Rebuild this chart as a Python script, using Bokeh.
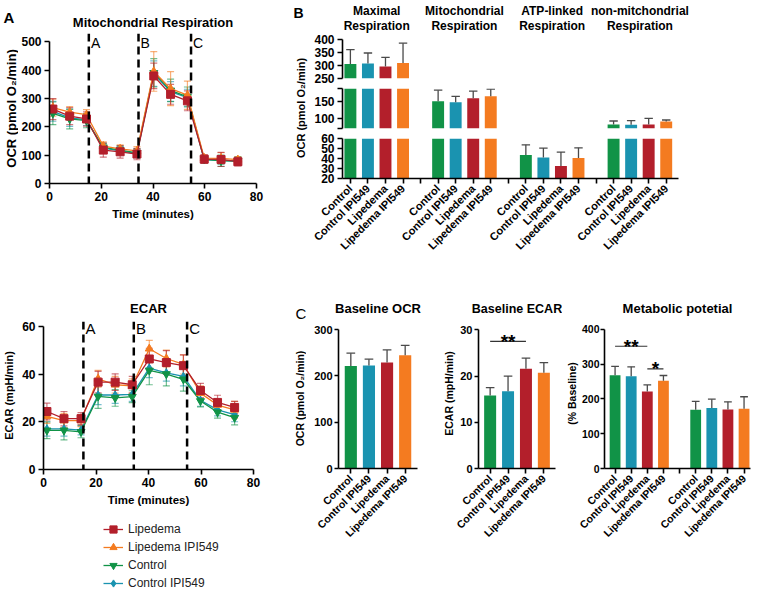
import numpy as np
from bokeh.plotting import figure
from bokeh.layouts import row, column
from bokeh.models import (Range1d, FixedTicker, LinearAxis, Legend, LegendItem,
                          ColumnDataSource, Span, Whisker, TeeHead)
from bokeh.core.properties import value
from bokeh.embed import file_html
from bokeh.resources import INLINE

FONT = "Liberation Sans"

# ---------------- Panel A : time courses ----------------
time_min = [1.3, 7.8, 14.3, 20.8, 27.3, 33.8, 40.3, 46.8, 53.3, 59.8, 66.3, 72.8]
injection_times = [15.2, 34.4, 54.7]
injection_labels = ["A", "B", "C"]

series_names = ["Lipedema", "Lipedema IPI549", "Control", "Control IPI549"]
series_colors = ["#B31F2B", "#F47B20", "#119347", "#1A93B0"]
series_markers = ["square", "triangle", "inverted_triangle", "diamond"]

ocr_lipedema = [263, 238, 228, 118, 112, 104, 380, 315, 292, 86, 85, 77]
ocr_lipedema_ipi = [268, 252, 243, 132, 122, 115, 396, 335, 312, 90, 89, 84]
ocr_control = [248, 228, 222, 128, 118, 108, 391, 329, 306, 86, 80, 80]
ocr_control_ipi = [255, 232, 225, 125, 115, 106, 388, 325, 303, 84, 82, 78]
ocr_lipedema_err = [37, 30, 25, 25, 22, 20, 45, 35, 35, 15, 25, 15]
ocr_lipedema_ipi_err = [30, 20, 18, 15, 15, 15, 70, 60, 50, 10, 20, 10]
ocr_control_err = [40, 35, 25, 15, 15, 15, 50, 40, 35, 12, 20, 15]
ocr_control_ipi_err = [35, 30, 20, 15, 15, 15, 45, 35, 30, 10, 15, 12]

ecar_lipedema = [24.3, 21.3, 21.3, 36.6, 36.6, 35.5, 46.3, 44.8, 43.5, 33.1, 28.1, 26.0]
ecar_lipedema_ipi = [22.3, 20.5, 20.5, 38.0, 35.5, 35.0, 50.6, 46.5, 44.0, 32.0, 27.0, 25.0]
ecar_control = [16.4, 16.4, 15.8, 30.6, 30.0, 30.5, 41.5, 40.0, 37.8, 28.7, 24.0, 21.7]
ecar_control_ipi = [17.0, 17.0, 16.5, 31.2, 31.2, 31.5, 42.5, 40.5, 39.0, 29.0, 25.0, 23.0]
ecar_lipedema_err = [3.5, 3.0, 2.5, 4.5, 3.5, 3.5, 4.5, 5.0, 4.5, 3.0, 3.0, 2.5]
ecar_lipedema_ipi_err = [3.0, 3.0, 2.5, 3.5, 3.5, 3.0, 3.5, 3.5, 4.0, 3.0, 2.5, 3.5]
ecar_control_err = [3.5, 4.0, 2.5, 5.0, 3.5, 2.5, 6.0, 5.0, 5.0, 2.5, 2.5, 3.0]
ecar_control_ipi_err = [3.0, 3.0, 2.0, 4.0, 3.5, 3.0, 4.0, 3.5, 4.0, 2.5, 2.5, 3.0]

# ---------------- Panel B / C : bar charts ----------------
bar_categories = ["Control", "Control IPI549", "Lipedema", "Lipedema IPI549"]
bar_colors = ["#119347", "#1A93B0", "#B31F2B", "#F47B20"]

b_groups = ["Maximal\nRespiration", "Mitochondrial\nRespiration",
            "ATP-linked\nRespiration", "non-mitchondrial\nRespiration"]
b_maximal = [306, 308, 296, 310]
b_maximal_err = [55, 40, 35, 76]
b_mito = [152, 149, 161, 167]
b_mito_err = [34, 18, 22, 22]
b_atp = [43.4, 41.0, 32.4, 40.4]
b_atp_err = [10.3, 9.4, 14.0, 10.3]
b_nonmito = [81.3, 80.3, 81.3, 90.6]
b_nonmito_err = [10.5, 12.5, 18.7, 4.4]

c_ocr = [221, 222.5, 229, 244.7]
c_ocr_err = [28, 13.5, 27, 21]
c_ecar = [15.8, 16.7, 21.6, 20.7]
c_ecar_err = [1.7, 3.3, 2.3, 2.2]
mp_ocr = [268, 265, 221, 252]
mp_ocr_err = [25, 27, 19, 15]
mp_ecar = [168.7, 174, 169.5, 171.5]
mp_ecar_err = [24, 25, 22, 34.5]

ecar_sig = {"x0": [0], "x1": [2], "y": [27.5], "text": ["**"]}
mp_sig = {"x0": [0, 2], "x1": [2, 3], "y": [351, 286], "text": ["**", "*"]}


# ---------------- helpers ----------------
def base_fig(width, height, xr, yr, **kw):
    p = figure(width=width, height=height, x_range=xr, y_range=yr,
               output_backend="svg", toolbar_location=None, **kw)
    p.outline_line_color = None
    p.xgrid.visible = False
    p.ygrid.visible = False
    return p


def solo(p):
    # wrap a plot on its own so that its frame is not aligned with its neighbours'
    return column(p)


def strip_fig(width, height):
    return base_fig(width, height, Range1d(0, width), Range1d(0, height), min_border=0,
                    x_axis_location=None, y_axis_location=None, title_location=None)


def strip_text(p, x, y, text, size, bold=True, angle=0.0, align="left", baseline="alphabetic"):
    p.text(x=[x], y=[y], text=[text], angle=angle, text_font=value(FONT),
           text_font_style="bold" if bold else "normal", text_font_size=size,
           text_align=align, text_baseline=baseline, text_color="black")


def style_axis(ax, tick_size="12px", label_size="12px"):
    ax.axis_line_color = "black"
    ax.axis_line_width = 1.6
    ax.major_tick_line_color = "black"
    ax.major_tick_line_width = 1.6
    ax.major_tick_in = 0
    ax.major_tick_out = 5
    ax.minor_tick_line_color = None
    ax.major_label_text_font = FONT
    ax.major_label_text_font_style = "bold"
    ax.major_label_text_font_size = tick_size
    ax.major_label_text_color = "black"
    ax.major_label_standoff = 3
    ax.axis_label_text_font = FONT
    ax.axis_label_text_font_style = "bold"
    ax.axis_label_text_font_size = label_size
    ax.axis_label_text_color = "black"
    ax.axis_label_standoff = 4


def set_title(p, text, standoff, size="13px", offset=0):
    p.title.text = text
    p.title.align = "center"
    p.title.offset = offset
    p.title.text_font = FONT
    p.title.text_font_style = "bold"
    p.title.text_font_size = size
    p.title.text_color = "black"
    p.title.standoff = standoff


def series_sources(ys, errs):
    out = []
    for y, e in zip(ys, errs):
        y = np.array(y, dtype=float)
        e = np.array(e, dtype=float)
        out.append(ColumnDataSource(dict(x=time_min, y=y, lower=y - e, upper=y + e)))
    return out


def time_course(p, sources):
    data = list(zip(series_colors, series_markers, sources))
    for color, marker, src in reversed(data):
        p.add_layout(Whisker(base="x", upper="upper", lower="lower", source=src,
                             line_color=color, line_alpha=0.6, line_width=1.2,
                             upper_head=TeeHead(size=7, line_color=color, line_alpha=0.6, line_width=1.2),
                             lower_head=TeeHead(size=7, line_color=color, line_alpha=0.6, line_width=1.2)))
        p.line("x", "y", source=src, line_color=color, line_width=1.3)
        p.scatter("x", "y", source=src, marker=marker, size=8, color=color)
    for t in injection_times:
        p.add_layout(Span(location=t, dimension="height", line_color="black",
                          line_width=2.5, line_dash="8 5"))


def draw_bars(p, xs, vals, errs, colors, lo, hi, width=0.68, cap=0.24):
    """Bars, drawn only inside the [lo, hi] band of this (possibly broken) axis segment."""
    xs = np.array(xs, dtype=float)
    vals = np.array(vals, dtype=float)
    ups = vals + np.array(errs, dtype=float)
    colors = np.array(colors)
    m = vals > lo
    p.vbar(x=xs[m], top=np.minimum(vals[m], hi), bottom=lo, width=width,
           fill_color=list(colors[m]), line_color=None)
    y0 = np.clip(vals, lo, hi)
    y1 = np.clip(ups, lo, hi)
    s = y1 > y0
    p.segment(x0=xs[s], y0=y0[s], x1=xs[s], y1=y1[s], line_color="#4a4a4a", line_width=1.3)
    c = (ups >= lo) & (ups <= hi)
    p.segment(x0=xs[c] - cap, y0=ups[c], x1=xs[c] + cap, y1=ups[c], line_color="#4a4a4a", line_width=1.3)


def cat_axis(ax, positions, labels, size="11px"):
    ax.ticker = FixedTicker(ticks=positions)
    ax.major_label_overrides = {float(k): v for k, v in zip(positions, labels)}
    ax.major_label_orientation = np.pi / 4
    ax.major_label_text_font_size = size


# ---------------- Panel A figures ----------------
ocr_sources = series_sources([ocr_lipedema, ocr_lipedema_ipi, ocr_control, ocr_control_ipi],
                             [ocr_lipedema_err, ocr_lipedema_ipi_err, ocr_control_err, ocr_control_ipi_err])
ecar_sources = series_sources([ecar_lipedema, ecar_lipedema_ipi, ecar_control, ecar_control_ipi],
                              [ecar_lipedema_err, ecar_lipedema_ipi_err, ecar_control_err, ecar_control_ipi_err])

stripA = strip_fig(18, 226)
strip_text(stripA, 3, 209.5, "A", "15px")
strip_text(stripA, 11, 118, "OCR (pmol O\u2082/min)", "13px", angle=np.pi / 2,
           align="center", baseline="middle")

pA1 = base_fig(273, 226, Range1d(0, 80), Range1d(0, 530),
               min_border_left=28, min_border_right=35, min_border_top=33, min_border_bottom=43)
set_title(pA1, "Mitochondrial Respiration", 8)
time_course(pA1, ocr_sources)
pA1.text(x=[t + 0.8 for t in injection_times], y=[497] * 3, text=injection_labels,
         text_font=value(FONT), text_font_size="14px", text_baseline="alphabetic", text_color="black")
for ax in pA1.axis:
    style_axis(ax, "12px", "13px")
pA1.xaxis.ticker = FixedTicker(ticks=[0, 20, 40, 60, 80])
pA1.yaxis.ticker = FixedTicker(ticks=[0, 100, 200, 300, 400, 500])
pA1.yaxis.bounds = (0, 500)
pA1.xaxis.axis_label = "Time (minutes)"
pA1.xaxis.axis_label_text_font_size = "11.5px"

pA2 = base_fig(291, 284, Range1d(0, 80), Range1d(0, 62),
               min_border_left=38, min_border_right=38, min_border_top=95, min_border_bottom=41)
set_title(pA2, "ECAR", 11)
time_course(pA2, ecar_sources)
pA2.text(x=[t + 0.8 for t in injection_times], y=[59] * 3, text=injection_labels,
         text_font=value(FONT), text_font_size="15px", text_baseline="alphabetic", text_color="black")
for ax in pA2.axis:
    style_axis(ax, "12px", "11px")
pA2.xaxis.ticker = FixedTicker(ticks=[0, 20, 40, 60, 80])
pA2.yaxis.ticker = FixedTicker(ticks=[0, 20, 40, 60])
pA2.yaxis.bounds = (0, 60)
pA2.xaxis.axis_label = "Time (minutes)"
pA2.xaxis.axis_label_text_font_size = "11.5px"
pA2.yaxis.axis_label = "ECAR (mpH/min)"

# legend: its own small figure; the series there are out of view, only their keys are shown
pLeg = base_fig(291, 82, Range1d(-2, -1), Range1d(-2, -1), min_border_left=103,
                min_border_right=0, min_border_top=10, min_border_bottom=0,
                x_axis_location=None, y_axis_location=None, title_location=None)
items = []
for name, color, marker, src in zip(series_names, series_colors, series_markers, ecar_sources):
    lr = pLeg.line("x", "y", source=src, line_color=color, line_width=1.3)
    sr = pLeg.scatter("x", "y", source=src, marker=marker, color=color, size=8)
    items.append(LegendItem(label=name, renderers=[lr, sr]))
leg = Legend(items=items, location="top_left", padding=0, margin=0, spacing=0,
             glyph_height=18, label_height=18, glyph_width=20, label_standoff=5,
             border_line_color=None, background_fill_alpha=0,
             label_text_font=FONT, label_text_font_size="12px", label_text_color="#222222")
pLeg.add_layout(leg)

left_col = column(row(solo(stripA), solo(pA1)), solo(pA2), solo(pLeg))

# ---------------- Panel B ----------------
pBlab = strip_fig(18, 295)
strip_text(pBlab, 2, 282.5, "B", "14px")
strip_text(pBlab, 9, 187.5, "OCR (pmol O\u2082/min)", "11px", angle=np.pi / 2,
           align="center", baseline="middle")

b_x = [5 * g + i for g in range(4) for i in range(4)]
b_vals = b_maximal + b_mito + b_atp + b_nonmito
b_errs = b_maximal_err + b_mito_err + b_atp_err + b_nonmito_err
b_cols = bar_colors * 4
xB = Range1d(-0.45, 18.7)

pBt = base_fig(389, 86, xB, Range1d(250, 400), x_axis_location=None, title_location=None,
               min_border_left=33, min_border_right=20, min_border_top=39, min_border_bottom=8)
pBm = base_fig(389, 44, xB, Range1d(69, 191), x_axis_location=None, title_location=None,
               min_border_left=33, min_border_right=20, min_border_top=2, min_border_bottom=2)
pBb = base_fig(389, 165, xB, Range1d(20, 60), title_location=None,
               min_border_left=33, min_border_right=20, min_border_top=8, min_border_bottom=117)
for p in (pBt, pBm, pBb):
    draw_bars(p, b_x, b_vals, b_errs, b_cols, p.y_range.start, p.y_range.end)
    for ax in p.axis:
        style_axis(ax, "12px", "11px")
pBt.yaxis.ticker = FixedTicker(ticks=[250, 300, 350, 400])
pBm.yaxis.ticker = FixedTicker(ticks=[69, 100, 150, 191])
pBm.yaxis.major_label_overrides = {69: "", 191: ""}
pBb.yaxis.ticker = FixedTicker(ticks=[20, 30, 40, 50, 60])

b_ticks = list(range(19))
b_tick_labels = ["" if t % 5 == 4 else bar_categories[t % 5] for t in b_ticks]
cat_axis(pBb.xaxis[0], b_ticks, b_tick_labels, "11px")

group_centers = [5 * g + 1.5 for g in range(4)]
top_axis = LinearAxis(ticker=FixedTicker(ticks=group_centers),
                      major_label_overrides={float(c): t for c, t in zip(group_centers, b_groups)})
style_axis(top_axis, "12px", "12px")
top_axis.axis_line_color = None
top_axis.major_tick_line_color = None
top_axis.major_tick_out = 0
top_axis.major_label_text_line_height = 1.05
top_axis.major_label_standoff = 7
pBt.add_layout(top_axis, "above")

B_row = row(solo(pBlab), column(pBt, pBm, pBb))

# ---------------- Panel C ----------------
def c_fig(width, xr, yr, left, right, title, ticks, ylabel=None, title_size="13px", title_offset=0):
    p = base_fig(width, 297, xr, yr, min_border_left=left, min_border_right=right,
                 min_border_top=23, min_border_bottom=124)
    set_title(p, title, 6, title_size, title_offset)
    for ax in p.axis:
        style_axis(ax, "11px", "10.5px")
    p.yaxis.ticker = FixedTicker(ticks=ticks)
    p.yaxis.bounds = (ticks[0], ticks[-1])
    p.yaxis.major_label_standoff = 2
    p.yaxis.major_tick_out = 4
    if ylabel:
        p.yaxis.axis_label = ylabel
        p.yaxis.axis_label_standoff = 2
    return p


stripC = strip_fig(15, 297)
strip_text(stripC, 4, 279, "C", "15px", bold=False)
strip_text(stripC, 8, 194, "OCR (pmol O\u2082/min)", "10.5px", angle=np.pi / 2,
           align="center", baseline="middle")

pC1 = c_fig(133, Range1d(-0.68, 3.68), Range1d(0, 323.8), 32, 22, "Baseline OCR",
            [0, 100, 200, 300])
draw_bars(pC1, [0, 1, 2, 3], c_ocr, c_ocr_err, bar_colors, 0, 323.8, width=0.67)
cat_axis(pC1.xaxis[0], [0, 1, 2, 3], bar_categories, "10.5px")

pC2 = c_fig(123, Range1d(-0.65, 3.65), Range1d(0, 32.47), 39, 7, "Baseline ECAR",
            [0, 10, 20, 30], "ECAR (mpH/min)", "12.5px", -4)
draw_bars(pC2, [0, 1, 2, 3], c_ecar, c_ecar_err, bar_colors, 0, 32.47, width=0.67)
cat_axis(pC2.xaxis[0], [0, 1, 2, 3], bar_categories, "10.5px")

pC3 = c_fig(189, Range1d(-0.656, 8.4), Range1d(0, 430.7), 37, 1, "Metabolic potetial",
            [0, 100, 200, 300, 400], "(% Baseline)")
pC3.yaxis.major_label_standoff = 1
pC3.yaxis.axis_label_standoff = 1
pC3.yaxis.major_label_text_font_size = "10.5px"
mp_x = [0, 1, 2, 3, 5, 6, 7, 8]
draw_bars(pC3, mp_x, mp_ocr + mp_ecar, mp_ocr_err + mp_ecar_err, bar_colors * 2, 0, 430.7, width=0.67)
cat_axis(pC3.xaxis[0], list(range(9)), bar_categories + [""] + bar_categories, "10.5px")


def sig_marks(p, sig):
    mid = [(a + b) / 2 for a, b in zip(sig["x0"], sig["x1"])]
    p.segment(x0=sig["x0"], y0=sig["y"], x1=sig["x1"], y1=sig["y"], line_color="#333333", line_width=1.2)
    p.text(x=mid, y=sig["y"], text=sig["text"], text_font=value(FONT), text_font_style="bold",
           text_font_size="19px", text_align="center", text_baseline="alphabetic", text_color="black")


sig_marks(pC2, ecar_sig)
sig_marks(pC3, mp_sig)

C_row = row(solo(stripC), solo(pC1), solo(pC2), solo(pC3))
right_col = column(B_row, C_row)
root = row(left_col, right_col)

open("out.html", "w").write(file_html(root, INLINE))
